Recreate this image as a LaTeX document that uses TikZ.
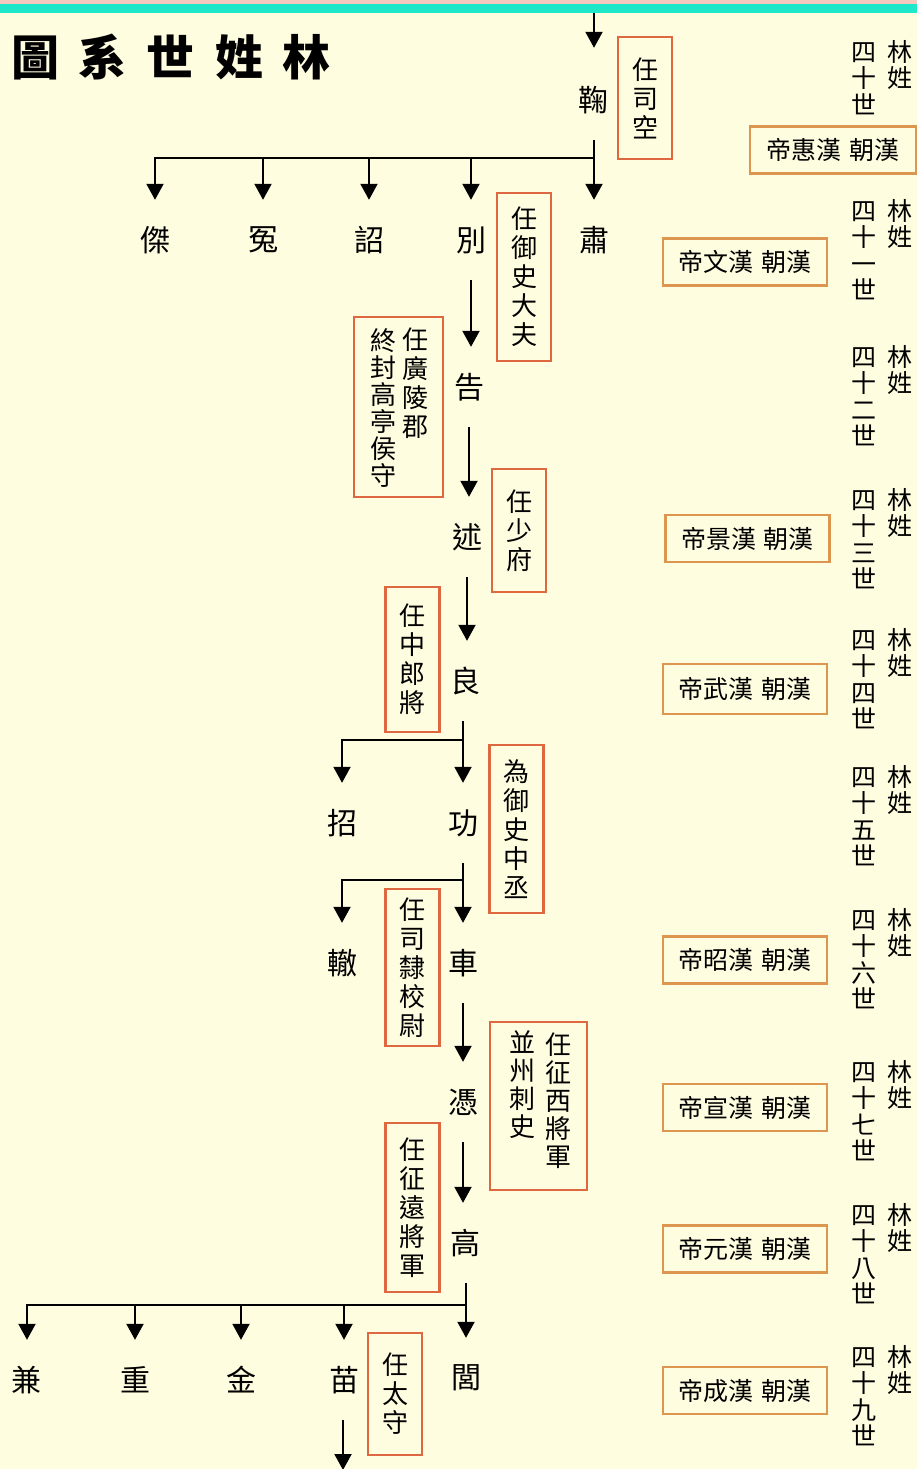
\documentclass[tikz,border=0pt]{standalone}
\usepackage{fontspec}
\newfontfamily\cjk{Noto Sans CJK TC}
\usetikzlibrary{arrows.meta}
\definecolor{bgcream}{RGB}{255,253,224}
\definecolor{topband}{RGB}{30,232,200}
\definecolor{pinkband}{RGB}{245,200,192}
\definecolor{offbox}{RGB}{222,104,64}
\definecolor{dynbox}{RGB}{220,150,80}
\begin{document}
\begin{tikzpicture}[x=1pt,y=-1pt,
  person/.style={font=\cjk\fontsize{30}{30}\selectfont, minimum height=80pt, inner sep=0pt},
  obox/.style={draw=offbox, line width=2.2pt, inner sep=0pt, align=center,
    minimum width=54pt, font=\cjk\fontsize{26}{29}\selectfont},
  ocol/.style={inner sep=0pt, align=center, font=\cjk\fontsize{26}{28}\selectfont},
  dbox/.style={draw=dynbox, line width=2.5pt, inner sep=0pt, minimum width=164pt,
    minimum height=47pt, font=\cjk\fontsize{25}{25}\selectfont},
  gen/.style={inner sep=0pt, align=center, font=\cjk\fontsize{25}{26.5}\selectfont},
  arr/.style={line width=2pt, -{Triangle[width=17pt,length=16pt]}},
  ttl/.style={inner sep=0pt, font=\cjk\bfseries\fontsize{48}{48}\selectfont}
]
\useasboundingbox (0,0) rectangle (917,1469);
\fill[bgcream] (0,0) rectangle (917,1469);
\fill[pinkband] (0,0) rectangle (917,4);
\fill[topband] (0,4) rectangle (917,13);

% title
\node[ttl] (title) at (171,57) {圖\hspace{20pt}系\hspace{20pt}世\hspace{20pt}姓\hspace{20pt}林};

% persons
\node[person] (ju) at (593,100) {鞠};
\node[person] (jie) at (155,240) {傑};
\node[person] (yuan) at (263,240) {冤};
\node[person] (zhao) at (369,240) {詔};
\node[person] (bie) at (471,240) {別};
\node[person] (su) at (594,240) {肅};
\node[person] (gao1) at (469,387) {告};
\node[person] (shu) at (467,537) {述};
\node[person] (liang) at (465,681) {良};
\node[person] (zhaoB) at (342,823) {招};
\node[person] (gong) at (463,823) {功};
\node[person] (zhe) at (342,963) {轍};
\node[person] (che) at (463,963) {車};
\node[person] (ping) at (463,1102) {憑};
\node[person] (gao) at (465,1243) {高};
\node[person] (jian) at (27,1380) {兼};
\node[person] (zhong) at (135,1380) {重};
\node[person] (jin) at (241,1380) {金};
\node[person] (miao) at (344,1380) {苗};
\node[person] (lu) at (466,1378) {閭};

% official boxes
\node[obox, minimum height=122pt] (b1) at (645,98) {任\\司\\空};
\node[obox, minimum height=168pt] (b2) at (524,277) {任\\御\\史\\大\\夫};
\node[obox, minimum width=89pt, minimum height=180pt] (b3) at (398.5,407) {};
\node[ocol, font=\cjk\fontsize{26}{29}\selectfont] (b3r) at (415,383.5) {任\\廣\\陵\\郡};
\node[ocol, font=\cjk\fontsize{26}{27}\selectfont] (b3l) at (383,407.5) {終\\封\\高\\亭\\侯\\守};
\node[obox, minimum height=123pt] (b4) at (519,530.5) {任\\少\\府};
\node[obox, minimum height=145pt] (b5) at (412.5,659.5) {任\\中\\郎\\將};
\node[obox, minimum height=168pt] (b6) at (516.5,829) {為\\御\\史\\中\\丞};
\node[obox, minimum height=157pt] (b7) at (412.5,967.5) {任\\司\\隸\\校\\尉};
\node[obox, minimum width=97pt, minimum height=168pt] (b8) at (538.5,1106) {};
\node[ocol] (b8r) at (558,1101) {任\\征\\西\\將\\軍};
\node[ocol] (b8l) at (522,1085) {並\\州\\刺\\史};
\node[obox, minimum height=169pt] (b9) at (412.5,1207.5) {任\\征\\遠\\將\\軍};
\node[obox, minimum height=122pt] (b10) at (395,1394) {任\\太\\守};

% dynasty boxes
\node[dbox, minimum width=166pt] (d40) at (833,150) {帝惠漢\hspace{0.3em}朝漢};
\node[dbox] (d41) at (745,262) {帝文漢\hspace{0.3em}朝漢};
\node[dbox] (d43) at (747.5,538.5) {帝景漢\hspace{0.3em}朝漢};
\node[dbox, minimum height=50pt] (d44) at (745,689) {帝武漢\hspace{0.3em}朝漢};
\node[dbox] (d46) at (745,960) {帝昭漢\hspace{0.3em}朝漢};
\node[dbox] (d47) at (745,1107.5) {帝宣漢\hspace{0.3em}朝漢};
\node[dbox] (d48) at (745,1249) {帝元漢\hspace{0.3em}朝漢};
\node[dbox] (d49) at (745,1390.5) {帝成漢\hspace{0.3em}朝漢};

% generation labels
\node[gen] (g40a) at (864,78.5) {四\\十\\世};
\node[gen] (g40b) at (900,65) {林\\姓};
\node[gen] (g41a) at (864,251) {四\\十\\一\\世};
\node[gen] (g41b) at (900,224) {林\\姓};
\node[gen] (g42a) at (864,397) {四\\十\\二\\世};
\node[gen] (g42b) at (900,370) {林\\姓};
\node[gen] (g43a) at (864,540) {四\\十\\三\\世};
\node[gen] (g43b) at (900,513) {林\\姓};
\node[gen] (g44a) at (864,680) {四\\十\\四\\世};
\node[gen] (g44b) at (900,653) {林\\姓};
\node[gen] (g45a) at (864,817) {四\\十\\五\\世};
\node[gen] (g45b) at (900,790) {林\\姓};
\node[gen] (g46a) at (864,960) {四\\十\\六\\世};
\node[gen] (g46b) at (900,933) {林\\姓};
\node[gen] (g47a) at (864,1112) {四\\十\\七\\世};
\node[gen] (g47b) at (900,1085) {林\\姓};
\node[gen] (g48a) at (864,1255) {四\\十\\八\\世};
\node[gen] (g48b) at (900,1228) {林\\姓};
\node[gen] (g49a) at (864,1397) {四\\十\\九\\世};
\node[gen] (g49b) at (900,1370) {林\\姓};

% connectors
\coordinate (top) at (594,13);
\draw[arr, shorten >=12pt] (top) -- (top |- ju.north);

\coordinate (j1) at (594,158);
\draw[arr] (ju.south -| j1) -- (j1 |- su.north);
\draw[arr] (j1) -| (jie.north);
\draw[arr] (j1) -| (yuan.north);
\draw[arr] (j1) -| (zhao.north);
\draw[arr] (j1) -| (bie.north);

\draw[arr] (bie.south) -- (bie.south |- gao1.north);
\draw[arr] (gao1.south) -- (gao1.south |- shu.north);
\draw[arr] (shu.south) -- (shu.south |- liang.north);

\coordinate (l1) at (463,740);
\draw[arr] (liang.south -| l1) -- (l1 |- gong.north);
\draw[arr] (l1) -| (zhaoB.north);

\coordinate (k1) at (463,880);
\draw[arr] (gong.south) -- (gong.south |- che.north);
\draw[arr] (k1) -| (zhe.north);

\draw[arr] (che.south) -- (che.south |- ping.north);
\draw[arr] (ping.south) -- (ping.south |- gao.north);

\coordinate (h1) at (466,1305);
\draw[arr] (gao.south -| h1) -- (h1 |- lu.north);
\draw[arr] (h1) -| (jian.north);
\draw[arr] (h1) -| (zhong.north);
\draw[arr] (h1) -| (jin.north);
\draw[arr] (h1) -| (miao.north);

\coordinate (bot) at (343,1470);
\draw[arr] (miao.south -| bot) -- (bot);
\end{tikzpicture}
\end{document}
